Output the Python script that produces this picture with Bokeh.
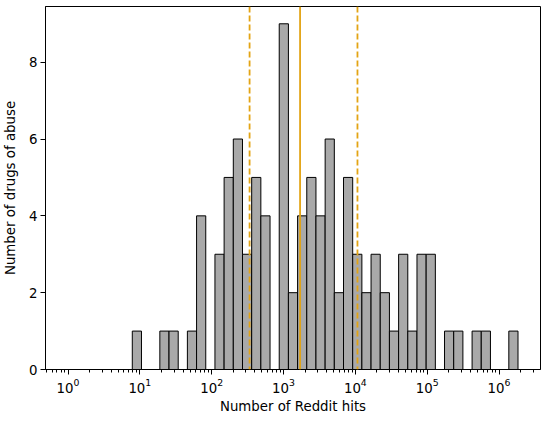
import numpy as np
from bokeh.plotting import figure
from bokeh.models import Range1d, FixedTicker, LogTickFormatter, Span, ColumnDataSource
from bokeh.embed import file_html
from bokeh.resources import INLINE

# Histogram: 49 log-spaced bins from 10^0 to 10^6.264 (Reddit hits)
log_min = 0.0
log_max = 6.264
counts = [0, 0, 0, 0, 0, 0, 0, 1, 0, 0,
          1, 1, 0, 1, 4, 0, 3, 5, 6, 3,
          5, 4, 0, 9, 2, 4, 5, 4, 6, 2,
          5, 3, 2, 3, 2, 1, 3, 1, 3, 3,
          0, 1, 1, 0, 1, 1, 0, 0, 1]
# quartile markers: Q1, median, Q3
quartiles = [337, 1700, 10700]
quartile_dash = [True, False, True]

x_label = "Number of Reddit hits"
y_label = "Number of drugs of abuse"
y_ticks = [0, 2, 4, 6, 8]

edges = np.logspace(log_min, log_max, len(counts) + 1)
src = ColumnDataSource(dict(left=edges[:-1], right=edges[1:], top=counts,
                            bottom=[0] * len(counts)))

lspan = log_max - log_min
xr = Range1d(10 ** (log_min - 0.05 * lspan), 10 ** (log_max + 0.05 * lspan))
yr = Range1d(0, max(counts) * 1.05)

p = figure(width=541, height=416, x_axis_type="log", x_range=xr, y_range=yr,
           output_backend="svg", toolbar_location=None,
           min_border_left=44, min_border_right=1, min_border_top=6,
           min_border_bottom=44)
p.background_fill_color = "white"
p.border_fill_color = "white"
p.outline_line_color = "black"
p.outline_line_width = 1
p.xgrid.visible = False
p.ygrid.visible = False

p.quad(left="left", right="right", top="top", bottom="bottom", source=src,
       fill_color="#A9A9A9", line_color="black", line_width=1)

for q, d in zip(quartiles, quartile_dash):
    p.add_layout(Span(location=q, dimension="height", line_color="#E3A414",
                      line_width=1.8, line_dash="6 3" if d else "solid"))

major = [10.0 ** k for k in range(-1, 8)]
minor = [m * 10.0 ** k for k in range(-1, 8) for m in range(2, 10)]
p.xaxis.ticker = FixedTicker(ticks=major, minor_ticks=minor)
p.xaxis.formatter = LogTickFormatter()
p.yaxis.ticker = FixedTicker(ticks=y_ticks)

for ax in (p.xaxis[0], p.yaxis[0]):
    ax.axis_line_color = "black"
    ax.major_tick_line_color = "black"
    ax.minor_tick_line_color = "black"
    ax.major_tick_in = 0
    ax.major_tick_out = 5
    ax.minor_tick_in = 0
    ax.minor_tick_out = 3
    ax.major_label_text_font = "DejaVu Sans"
    ax.major_label_text_font_size = "10pt"
    ax.major_label_text_color = "black"
    ax.axis_label_text_font = "DejaVu Sans"
    ax.axis_label_text_font_size = "10pt"
    ax.axis_label_text_font_style = "normal"
    ax.axis_label_text_color = "black"
    ax.major_label_standoff = 3
    ax.axis_label_standoff = 3

p.yaxis.axis_label_standoff = 8
p.yaxis.minor_tick_line_color = None
p.xaxis.axis_label = x_label
p.yaxis.axis_label = y_label

open("out.html", "w").write(file_html(p, INLINE))
